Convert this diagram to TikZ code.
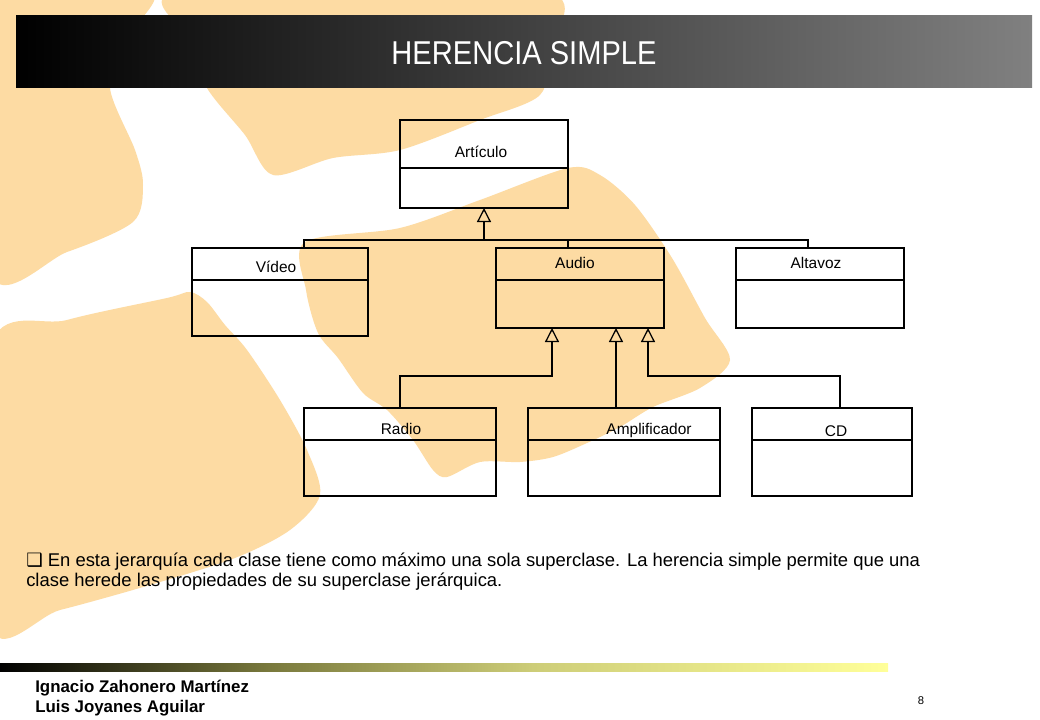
\documentclass[tikz,border=0pt]{standalone}
\usepackage{fontspec}
\setmainfont{Liberation Sans}
\newfontfamily\symfont{DejaVu Sans}
\usetikzlibrary{arrows.meta}

\definecolor{peach}{RGB}{253,219,163}
\definecolor{bargray}{RGB}{128,128,128}
\definecolor{olv}{RGB}{120,120,60}
\definecolor{khaki}{RGB}{205,205,120}
\definecolor{paleyel}{RGB}{255,255,153}

\pgfdeclarehorizontalshading{footbar}{100bp}{color(0bp)=(black); color(25bp)=(black);
  color(40bp)=(olv); color(55bp)=(khaki); color(75bp)=(paleyel); color(100bp)=(paleyel)}

\tikzset{
  cls/.style={draw, line width=0.9pt, inner sep=0pt, outer sep=0pt},
  lbl/.style={font=\fontsize{11}{13}\selectfont, inner sep=0pt},
  link/.style={line width=0.9pt},
  gen/.style={link, -{Triangle[open, length=10pt, width=10pt]}},
  blob/.style={fill=peach},
}

\begin{document}
\begin{tikzpicture}[x=0.025cm, y=-0.025cm]
\useasboundingbox (0,0) rectangle (1040,720);
\fill[white] (0,0) rectangle (1040,720);

% background strokes
\begin{scope}
  \clip (0,0) rectangle (1040,720);
  \fill[blob] plot[smooth cycle, tension=0.5] coordinates {
    (-10,-10) (150,-10) (125,40) (110,88) (135,150) (143,185) (133,222)
    (67,252) (-10,272)};
  \fill[blob] plot[smooth cycle, tension=0.5] coordinates {
    (182,-10) (540,-10) (548,50) (540,95) (480,120) (400,150) (333,158)
    (273,175) (245,135) (207,88) (190,40)};
  \fill[blob] plot[smooth cycle, tension=0.5] coordinates {
    (305,242) (400,228) (480,200) (568,168) (600,175) (635,205) (672,258)
    (705,318) (730,360) (700,388) (653,407) (620,427) (587,443) (553,457)
    (520,462) (480,462) (447,477) (433,470) (413,440) (387,410) (363,393)
    (338,358) (318,333) (306,290)};
  \fill[blob] plot[smooth cycle, tension=0.5] coordinates {
    (-10,348) (67,320) (167,298) (190,292) (207,302) (225,325) (247,350)
    (280,400) (307,450) (320,495) (290,530) (235,558) (150,585) (60,610)
    (-10,625)};
\end{scope}

% title bar
\shade[left color=black, right color=bargray] (16,16) rectangle (1032,88);
\node[text=white, font=\fontsize{23.5}{26}\selectfont] (titulo) at (524,53)
  {\scalebox{0.88}[1]{HERENCIA SIMPLE}};

% classes
\node[cls, minimum width=4.2cm, minimum height=2.2cm] (articulo) at (484,164) {};
\node[cls, minimum width=4.4cm, minimum height=2.2cm] (video) at (280,292) {};
\node[cls, minimum width=4.2cm, minimum height=2.0cm] (audio) at (580,288) {};
\node[cls, minimum width=4.2cm, minimum height=2.0cm] (altavoz) at (820,288) {};
\node[cls, minimum width=4.8cm, minimum height=2.2cm] (radio) at (400,452) {};
\node[cls, minimum width=4.8cm, minimum height=2.2cm] (amplificador) at (624,452) {};
\node[cls, minimum width=4.0cm, minimum height=2.2cm] (cd) at (832,452) {};

\draw[link] (articulo.west |- 0,168) -- (articulo.east |- 0,168)
    (video.west |- 0,280) -- (video.east |- 0,280)
    (audio.west |- 0,280) -- (audio.east |- 0,280)
    (altavoz.west |- 0,280) -- (altavoz.east |- 0,280)
    (radio.west |- 0,440) -- (radio.east |- 0,440)
    (amplificador.west |- 0,440) -- (amplificador.east |- 0,440)
    (cd.west |- 0,440) -- (cd.east |- 0,440);

\node[lbl] (l-articulo) at (481,152) {Artículo};
\node[lbl] (l-video) at (276,267) {Vídeo};
\node[lbl] (l-audio) at (575,263) {Audio};
\node[lbl] (l-altavoz) at (816,263) {Altavoz};
\node[lbl] (l-radio) at (401,429) {Radio};
\node[lbl] (l-amplificador) at (649,431) {Amplificador};
\node[lbl] (l-cd) at (836,431) {CD};

% inheritance
\coordinate (bus) at (484,240);
\draw[gen] (bus) -- (articulo);
\draw[link] (video.north -| 304,0) |- (bus) -| (altavoz.north -| 808,0)
    (audio.north -| 568,0) -- (568,240);
\draw[gen] (radio.north -| 400,0) |- (552,376) -- (audio.south -| 552,0);
\draw[gen] (amplificador.north -| 616,0) -- (audio.south -| 616,0);
\draw[gen] (cd.north -| 840,0) |- (648,376) -- (audio.south -| 648,0);

% text
\node[anchor=base west, inner sep=0pt, font=\fontsize{13.1}{15}\selectfont] (nota1) at (26,567)
  {{\symfont ❑} En esta jerarquía cada clase tiene como máximo una sola superclase. La herencia simple permite que una};
\node[anchor=base west, inner sep=0pt, font=\fontsize{13.1}{15}\selectfont] (nota2) at (26,587)
  {clase herede las propiedades de su superclase jerárquica.};

% footer
\shade[shading=footbar] (0,664) rectangle (888,672);
\node[anchor=base west, inner sep=0pt, font=\bfseries\fontsize{12}{14}\selectfont] (autor1) at (35,693)
  {Ignacio Zahonero Martínez};
\node[anchor=base west, inner sep=0pt, font=\bfseries\fontsize{12}{14}\selectfont] (autor2) at (35,712)
  {Luis Joyanes Aguilar};
\node[font=\fontsize{8}{10}\selectfont] (pagina) at (921,701) {8};
\end{tikzpicture}
\end{document}
